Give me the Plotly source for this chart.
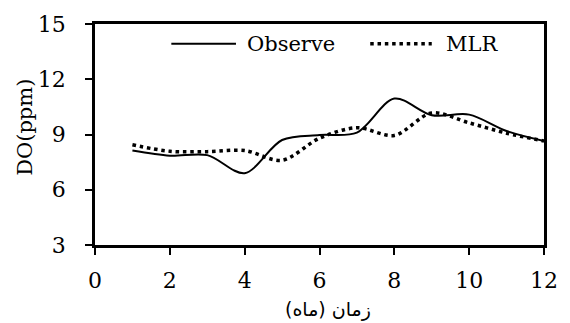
import plotly.graph_objects as go

# Monthly dissolved oxygen: observed vs. multiple linear regression estimate
months = [1, 2, 3, 4, 5, 6, 7, 8, 9, 10, 11, 12]
observed = [8.13, 7.85, 7.88, 6.9, 8.7, 8.97, 9.1, 10.95, 10.05, 10.08, 9.19, 8.65]
mlr = [8.44, 8.09, 8.07, 8.13, 7.6, 8.8, 9.37, 8.95, 10.17, 9.63, 9.07, 8.65]

x_ticks = [0, 2, 4, 6, 8, 10, 12]
y_ticks = [3, 6, 9, 12, 15]

SERIF = "DejaVu Serif"
DOT_DASH = "3.5px,3.8px"

fig = go.Figure()
fig.add_trace(go.Scatter(
    x=months, y=observed, mode="lines", name="Observe",
    line=dict(color="black", width=2, shape="spline", smoothing=0.9),
))
fig.add_trace(go.Scatter(
    x=months, y=mlr, mode="lines", name="MLR",
    line=dict(color="black", width=3.5, shape="spline", smoothing=0.9, dash=DOT_DASH),
))

axis_common = dict(
    showline=True, linecolor="black", linewidth=2.5, mirror=True,
    ticks="outside", ticklen=7, tickwidth=2, tickcolor="black",
    showgrid=False, zeroline=False,
    tickfont=dict(family=SERIF, size=22, color="black"),
)
fig.update_xaxes(range=[0, 12], tickvals=x_ticks, ticklabelstandoff=7, **axis_common)
fig.update_yaxes(range=[3, 15], tickvals=y_ticks, ticklabelstandoff=15, **axis_common)

# Hand-placed legend: wide line samples with labels across the top
fig.add_shape(type="line", xref="paper", yref="paper", x0=0.170, x1=0.314, y0=0.911, y1=0.911,
              line=dict(color="black", width=2))
fig.add_shape(type="line", xref="paper", yref="paper", x0=0.613, x1=0.750, y0=0.911, y1=0.911,
              line=dict(color="black", width=3.5, dash=DOT_DASH))
fig.add_annotation(text="Observe", xref="paper", yref="paper", x=0.334, y=0.911,
                   xanchor="left", yanchor="middle", showarrow=False,
                   font=dict(family=SERIF, size=21, color="black"))
fig.add_annotation(text="MLR", xref="paper", yref="paper", x=0.778, y=0.911,
                   xanchor="left", yanchor="middle", showarrow=False,
                   font=dict(family=SERIF, size=21, color="black"))

# Axis titles
fig.add_annotation(text="DO(ppm)", xref="paper", yref="paper", x=-0.155, y=0.532,
                   textangle=-90, xanchor="center", yanchor="middle", showarrow=False,
                   font=dict(family=SERIF, size=21, color="black"))
fig.add_annotation(text="زمان (ماه)", xref="paper", yref="paper", x=0.52, y=-0.29,
                   xanchor="center", yanchor="middle", showarrow=False,
                   font=dict(family="DejaVu Sans", size=19, color="black"))

fig.update_layout(
    width=570, height=323,
    margin=dict(l=95, r=24, t=14, b=78),
    paper_bgcolor="white", plot_bgcolor="white",
    showlegend=False,
)

fig.write_html("out.html")
